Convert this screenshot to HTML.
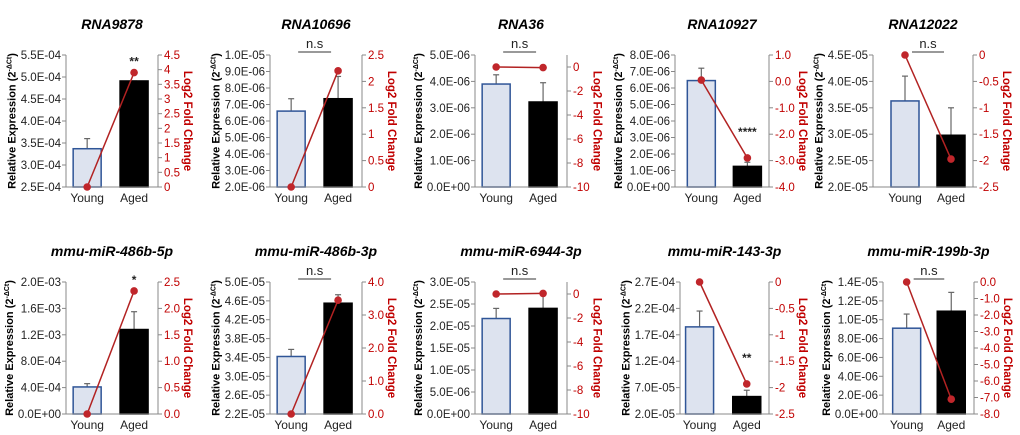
<!DOCTYPE html>
<html><head><meta charset="utf-8">
<style>
html,body{margin:0;padding:0;background:#fff;}
svg{display:block;font-family:"Liberation Sans",Arial,sans-serif;}
</style></head>
<body>
<svg id="fig" width="1020" height="435" viewBox="0 0 1020 435"></svg>
<script>
const titles = ["RNA9878","RNA10696","RNA36","RNA10927","RNA12022","mmu-miR-486b-5p","mmu-miR-486b-3p","mmu-miR-6944-3p","mmu-miR-143-3p","mmu-miR-199b-3p"];
const categories = ["Young","Aged"];
const barValues = [[3.37e-4,4.91e-4],[6.6e-6,7.35e-6],[3.9e-6,3.22e-6],[6.45e-6,1.25e-6],[3.63e-5,2.98e-5],[4.1e-4,1.28e-3],[3.42e-5,4.55e-5],[2.17e-5,2.4e-5],[1.85e-4,5.3e-5],[9.1e-6,1.09e-5]];
const errTops = [[3.6e-4,4.91e-4],[7.35e-6,8.7e-6],[4.25e-6,3.95e-6],[7.2e-6,1.5e-6],[4.1e-5,3.5e-5],[4.6e-4,1.55e-3],[3.57e-5,4.73e-5],[2.4e-5,2.75e-5],[2.15e-4,6.5e-5],[1.06e-5,1.29e-5]];
const foldValues = [[0,3.9],[0,2.2],[0,-0.05],[0.05,-2.9],[0,-1.97],[0,2.33],[0,3.45],[0,0.05],[0,-1.93],[0,-7.1]];
const leftMin = [2.5e-4,2e-6,0,0,2e-5,0,2.2e-5,0,2e-5,0];
const leftMax = [5.5e-4,1e-5,5e-6,8e-6,4.5e-5,2e-3,5e-5,3e-5,2.7e-4,1.4e-5];
const leftStep = [0.5e-4,1e-6,1e-6,1e-6,0.5e-5,4e-4,4e-6,0.5e-5,5e-5,2e-6];
const rightMin = [0,0,-10,-4,-2.5,0,0,-10,-2.5,-8];
const rightMax = [4.5,2.5,1,1,0,2.5,4,1,0,0];
const rightTickMax = [4.5,2.5,0,1,0,2.5,4,0,0,0];
const rightStep = [0.5,0.5,2,1,0.5,0.5,1,2,0.5,1];
const rightDec = [-1,-1,0,1,-1,1,1,0,-1,1];
const sigLabels = ["**","n.s","n.s","****","n.s","*","n.s","n.s","**","n.s"];

const layoutX = [[66,158],[270,362],[475,567],[675,769],[873,973],[66,158],[270,362],[475,567],[680,769],[883,974]];
const centerFrac = [[0.23,0.74],[0.23,0.74],[0.23,0.74],[0.28,0.77],[0.32,0.78],[0.23,0.74],[0.23,0.74],[0.23,0.74],[0.22,0.75],[0.26,0.75]];
const rowTop = [55,282], rowBot = [187,414], rowTitle=[29,256];
const NS="http://www.w3.org/2000/svg";
const svg=document.getElementById('fig');
function mk(tag,attrs,parent){const e=document.createElementNS(NS,tag);for(const k in attrs)e.setAttribute(k,attrs[k]);(parent||svg).appendChild(e);return e;}
function fmtE(v){if(Math.abs(v)<1e-20)return "0.0E+00";let ex=Math.floor(Math.log10(Math.abs(v))+1e-9);let m=v/Math.pow(10,ex);if(Math.abs(m)>=9.9995){m/=10;ex++;}const s=ex<0?"-":"+";return m.toFixed(1)+"E"+s+String(Math.abs(ex)).padStart(2,"0");}
function fmtR(v,d){if(d<0){return String(Math.round(v*100)/100);}return v.toFixed(d);}

for(let p=0;p<10;p++){
  const row=p<5?0:1;
  const x0=layoutX[p][0],x1=layoutX[p][1],w=x1-x0,top=rowTop[row],bot=rowBot[row];
  const g=mk('g',{});
  
  
  const yL=v=>bot-(v-leftMin[p])/(leftMax[p]-leftMin[p])*(bot-top);
  const yR=v=>bot-(v-rightMin[p])/(rightMax[p]-rightMin[p])*(bot-top);
  const xc=i=>x0+w*centerFrac[p][i];
  const bw=28;
  const t=mk('text',{x:(x0+x1)/2,y:rowTitle[row],'text-anchor':'middle','font-size':14,'font-weight':'bold','font-style':'italic',fill:'#000'},g);t.textContent=titles[p];
  
  for(let i=0;i<2;i++){
    const yb=yL(barValues[p][i]);
    const ye=yL(errTops[p][i]);
    const eb=mk('line',{x1:xc(i),x2:xc(i),y1:ye,y2:yb,stroke:'#666','stroke-width':1.2},g);
    
    const ec=mk('line',{x1:xc(i)-3,x2:xc(i)+3,y1:ye,y2:ye,stroke:'#666','stroke-width':1.2},g);
    
    const r=mk('rect',{x:xc(i)-bw/2,y:yb,width:bw,height:bot-yb,fill:i===0?'#dde3ef':'#000',stroke:i===0?'#2f5597':'#000','stroke-width':1.5},g);
    
    const xl=mk('text',{x:xc(i),y:bot+15,'text-anchor':'middle','font-size':12,fill:'#222'},g);xl.textContent=categories[i];
    
  }
  const la=mk('line',{x1:x0,x2:x0,y1:top,y2:bot,stroke:'#888','stroke-width':1},g);
  
  const ra=mk('line',{x1:x1,x2:x1,y1:top,y2:bot,stroke:'#888','stroke-width':1},g);
  
  const xa=mk('line',{x1:x0,x2:x1,y1:bot,y2:bot,stroke:'#888','stroke-width':1},g);
  
  let lw=0,rw=0;
  const nL=Math.round((leftMax[p]-leftMin[p])/leftStep[p]);
  for(let k=0;k<=nL;k++){const v=leftMin[p]+k*leftStep[p];const y=yL(v);
    mk('line',{x1:x0-4,x2:x0,y1:y,y2:y,stroke:'#888'},g);
    const tl=mk('text',{x:x0-5,y:y+4,'text-anchor':'end','font-size':11.5,fill:'#222'},g);tl.textContent=fmtE(v);
    
    lw=Math.max(lw,tl.getComputedTextLength());}
  const nR=Math.round((rightTickMax[p]-rightMin[p])/rightStep[p]);
  for(let k=0;k<=nR;k++){const v=rightMin[p]+k*rightStep[p];const y=yR(v);
    mk('line',{x1:x1,x2:x1+4,y1:y,y2:y,stroke:'#888'},g);
    const tr=mk('text',{x:x1+6,y:y+4,'text-anchor':'start','font-size':11.5,fill:'#c00000'},g);tr.textContent=fmtR(v,rightDec[p]);
    
    rw=Math.max(rw,tr.getComputedTextLength());}
  const cy=(top+bot)/2;
  const lt=mk('text',{x:0,y:0,transform:`translate(${x0-lw-10},${cy}) rotate(-90)`,'text-anchor':'middle','font-size':11,'font-weight':'bold',fill:'#000'},g);
  lt.innerHTML='Relative Expression (2<tspan font-size="7" dy="-4">-ΔCt</tspan><tspan dy="4">)</tspan>';
  
  const rt=mk('text',{x:0,y:0,transform:`translate(${x1+rw+10},${cy}) rotate(90)`,'text-anchor':'middle','font-size':11.5,'font-weight':'bold',fill:'#c00000'},g);
  rt.textContent='Log2 Fold Change';
  
  const fl=mk('line',{x1:xc(0),y1:yR(foldValues[p][0]),x2:xc(1),y2:yR(foldValues[p][1]),stroke:'#b22222','stroke-width':1.5},g);
  
  for(let i=0;i<2;i++){const c=mk('circle',{cx:xc(i),cy:yR(foldValues[p][i]),r:3.8,fill:'#c0262b'},g);
    }
  if(sigLabels[p]==='n.s'){
    const sl=mk('line',{x1:xc(0)+7,x2:xc(1)-7,y1:top-3,y2:top-3,stroke:'#333','stroke-width':1},g);
    
    const st=mk('text',{x:(xc(0)+xc(1))/2,y:top-7,'text-anchor':'middle','font-size':13,fill:'#222'},g);st.textContent='n.s';
    
  } else {
    let y;
    if(p===3||p===8) y=yR(foldValues[p][1])-22;
    else y=Math.min(yR(foldValues[p][1]),yL(errTops[p][1]))-7;
    const st=mk('text',{x:xc(1),y:y,'text-anchor':'middle','font-size':12,'font-weight':'bold',fill:'#222'},g);st.textContent=sigLabels[p];
    
  }
}
</script>
</body></html>
